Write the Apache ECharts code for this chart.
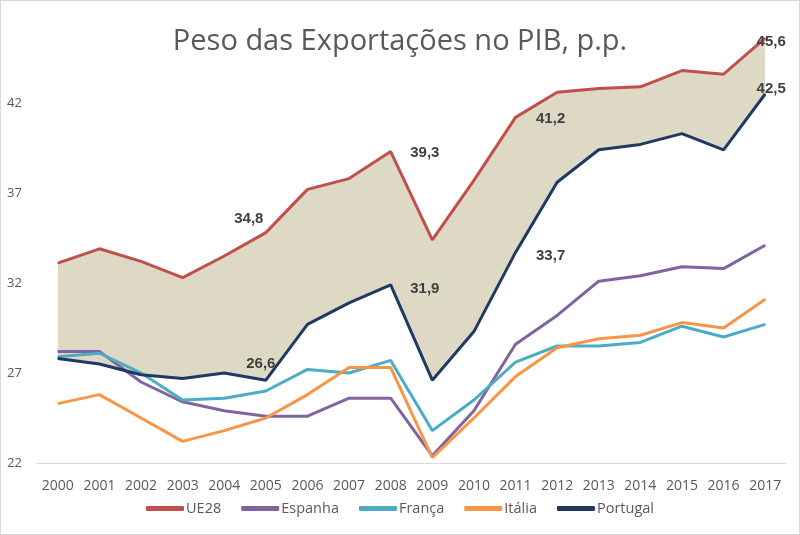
<!DOCTYPE html>
<html>
<head>
<meta charset="utf-8">
<script src="https://cdn.jsdelivr.net/npm/echarts@6/dist/echarts.min.js"></script>
<style>
html,body{margin:0;padding:0;background:#fff;}
#c{width:798px;height:533px;border:1px solid #d9d9d9;}
</style>
</head>
<body>
<div id="c"></div>
<script>
const years = ['2000','2001','2002','2003','2004','2005','2006','2007','2008','2009','2010','2011','2012','2013','2014','2015','2016','2017'];
const ue28     = [33.1, 33.9, 33.2, 32.3, 33.5, 34.8, 37.2, 37.8, 39.3, 34.4, 37.7, 41.2, 42.6, 42.8, 42.9, 43.8, 43.6, 45.6];
const espanha  = [28.2, 28.2, 26.5, 25.4, 24.9, 24.6, 24.6, 25.6, 25.6, 22.4, 24.9, 28.6, 30.2, 32.1, 32.4, 32.9, 32.8, 34.1];
const franca   = [27.9, 28.1, 27.0, 25.5, 25.6, 26.0, 27.2, 27.0, 27.7, 23.8, 25.5, 27.6, 28.5, 28.5, 28.7, 29.6, 29.0, 29.7];
const italia   = [25.3, 25.8, 24.5, 23.2, 23.8, 24.5, 25.8, 27.3, 27.3, 22.3, 24.5, 26.8, 28.4, 28.9, 29.1, 29.8, 29.5, 31.1];
const portugal = [27.8, 27.5, 26.9, 26.7, 27.0, 26.6, 29.7, 30.9, 31.9, 26.6, 29.3, 33.7, 37.6, 39.4, 39.7, 40.3, 39.4, 42.5];
const yTicks = [22, 27, 32, 37, 42];
const labelledYears = ['2005', '2008', '2011', '2017'];

const fmt = v => v.toFixed(1).replace('.', ',');
const labelFont = {fontFamily: 'Liberation Sans', fontWeight: 'bold', fontSize: 15, color: '#404040'};
const ueLabelPos = {'2005': ['top', [-17, -1]], '2008': ['right', [14, 1]], '2011': ['right', [15, 1]], '2017': ['top', [6, 17]]};
const ptLabelPos = {'2005': ['top', [-5, -3]], '2008': ['right', [14, 4]], '2011': ['right', [15, 3]], '2017': ['top', [6, 8]]};

function withLabels(vals, pos) {
  return vals.map((v, i) => {
    const y = years[i];
    if (labelledYears.indexOf(y) >= 0) {
      return {value: v, label: Object.assign({show: true, position: pos[y][0], offset: pos[y][1], formatter: () => fmt(v)}, labelFont)};
    }
    return v;
  });
}

const gap = ue28.map((v, i) => +(v - portugal[i]).toFixed(2));
const axisFont = {fontFamily: 'Open Sans', fontSize: 13, color: '#595959'};

function lineSeries(name, data, color) {
  return {name, type: 'line', data, symbol: 'circle', symbolSize: 1, showSymbol: true,
    lineStyle: {color, width: 3}, itemStyle: {color}, z: 3, animation: false};
}

const chart = echarts.init(document.getElementById('c'));
chart.setOption({
  animation: false,
  title: {text: 'Peso das Exportações no PIB, p.p.', left: 'center', top: 21,
    textStyle: {fontFamily: 'Open Sans', fontWeight: 'normal', fontSize: 29, color: '#595959'}},
  grid: {left: 36, right: 13, top: 12, bottom: 71},
  legend: {bottom: 13, left: 'center', itemWidth: 38, itemHeight: 5, itemGap: 20, icon: 'roundRect',
    data: ['UE28', 'Espanha', 'França', 'Itália', 'Portugal'],
    textStyle: {fontFamily: 'Open Sans', fontSize: 14.5, color: '#595959', padding: [0,0,0,-3]}},
  xAxis: {type: 'category', data: years, boundaryGap: true,
    axisLine: {lineStyle: {color: '#d9d9d9', width: 1}}, axisTick: {show: false},
    axisLabel: Object.assign({margin: 16, interval: 0}, axisFont, {fontSize: 14})},
  yAxis: {type: 'value', min: 22, max: 47, interval: 5,
    axisLine: {show: false}, axisTick: {show: false}, splitLine: {show: false},
    axisLabel: Object.assign({showMaxLabel: false, align: 'left', margin: 30,
      formatter: v => yTicks.indexOf(v) >= 0 ? String(v) : ''}, axisFont)},
  series: [
    {name: 'base', type: 'line', stack: 'band', data: portugal, symbol: 'none', lineStyle: {opacity: 0}, silent: true, z: 1},
    {name: 'gap', type: 'line', stack: 'band', data: gap, symbol: 'none', lineStyle: {opacity: 0},
      areaStyle: {color: '#ddd9c4', opacity: 1}, silent: true, z: 1},
    lineSeries('UE28', withLabels(ue28, ueLabelPos), '#c0504d'),
    lineSeries('Espanha', espanha, '#8064a2'),
    lineSeries('França', franca, '#4bacc6'),
    lineSeries('Itália', italia, '#f79646'),
    lineSeries('Portugal', withLabels(portugal, ptLabelPos), '#1f3864')
  ]
});
</script>
</body>
</html>
